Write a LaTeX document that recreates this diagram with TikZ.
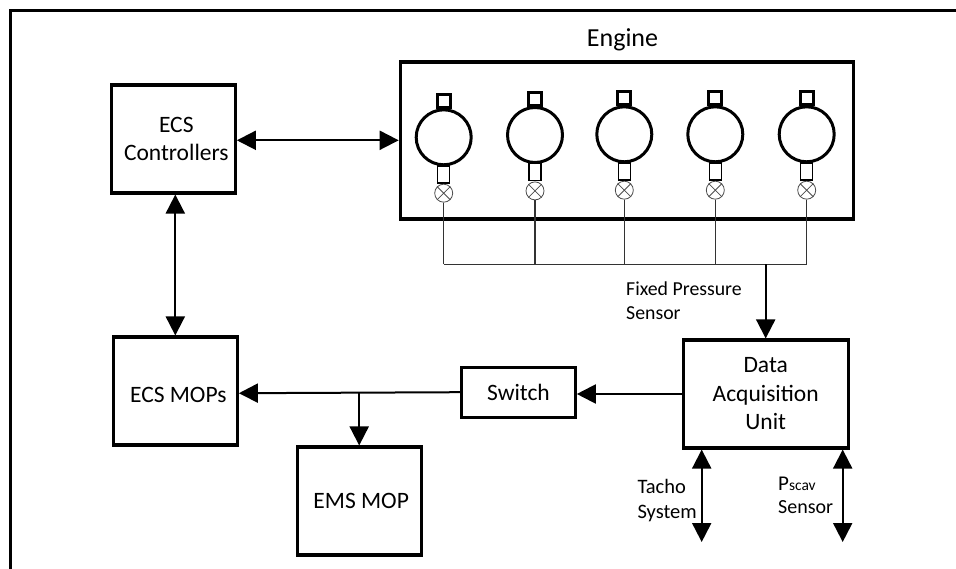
\documentclass[tikz,border=0pt]{standalone}
\usepackage{fontspec}
\setmainfont{Carlito}
\usetikzlibrary{arrows.meta,positioning}
\newcommand{\sizedtext}[1]{\fontsize{#1}{28.5}\selectfont}
\begin{document}
\begin{tikzpicture}[x=1pt, y=-1pt,
    block/.style={draw, line width=3.1pt, inner sep=0pt, align=center, font=\sizedtext{23.5}},
    cylinder/.style={circle, draw, line width=3pt, inner sep=0pt, minimum size=55pt},
    head/.style={draw, line width=2.8pt, inner sep=0pt, minimum size=13pt},
    stub/.style={draw, line width=1.5pt, inner sep=0pt, minimum width=12pt, minimum height=17pt},
    valve/.style={circle, draw=black!70, line width=0.8pt, inner sep=0pt, minimum size=18pt},
    wire/.style={draw=black!80, line width=1.3pt},
    link/.style={line width=2pt, -{Triangle[length=19pt, width=19pt]}},
    twoway/.style={line width=2pt, {Triangle[length=19pt, width=19pt]}-{Triangle[length=19pt, width=19pt]}},
    note/.style={inner sep=0pt, anchor=base west, align=left}]
  \useasboundingbox (0, 0) rectangle (956, 569);
  \draw[line width=3pt] (10.5, 569) -- (10.5, 11) -- (956, 11);

  \node[font=\sizedtext{26}, inner sep=0pt, anchor=base] (title) at (622.5, 46.7) {Engine};
  \node[block, minimum width=453pt, minimum height=157pt, line width=3.6pt] (engine) at (627, 140.3) {};
  \node[block, minimum width=124pt, minimum height=108pt] (controllers) at (173.3, 139)
    {\hspace*{6pt}ECS\\\hspace*{6pt}Controllers};
  \node[block, minimum width=124pt, minimum height=108pt, text height=22pt, text depth=0pt] (mops) at (175.3, 391)
    {\hspace*{6pt}ECS MOPs};
  \node[block, minimum width=124pt, minimum height=108pt] (ems) at (359.2, 501) {\hspace*{4pt}EMS MOP};
  \node[block, minimum width=114pt, minimum height=50pt, line width=2.6pt] (switch) at (518.5, 392.2) {Switch};
  \node[block, minimum width=165pt, minimum height=108pt] (dau) at (765.7, 394) {Data\\Acquisition\\Unit};

  \coordinate (bus) at (765.7, 264.5);
  \foreach \i/\x/\y in {1/443.7/137.3, 2/535/135, 3/624.3/134.3, 4/715.3/134.3, 5/806.7/134.3} {
    \node[cylinder] (c\i) at (\x, \y) {};
    \node[head, above=-1pt of c\i] (h\i) {};
    \node[stub, below=-1pt of c\i] (s\i) {};
    \node[valve, below=0pt of s\i] (v\i) {};
    \draw[black!70, line width=0.8pt] (v\i.45) -- (v\i.225) (v\i.135) -- (v\i.315);
    \draw[wire] (v\i.south) -- (v\i.south |- bus);
  }
  \draw[wire] (v1.south |- bus) -- (v5.south |- bus);

  \draw[twoway] (engine.west -| controllers.east) -- (engine.west);
  \draw[twoway] (mops.north |- controllers.south) -- (mops.north);
  \draw[link] (bus) -- (dau.north);
  \draw[link] (dau.west) -- (dau.west -| switch.east);
  \draw[link] (switch.west) -- (mops.-2);
  \draw[link] (switch.west -| ems.north) -- (ems.north);

  \coordinate (tacho) at (701.7, 542);
  \coordinate (pscav) at (842.7, 542);
  \draw[twoway] (tacho |- dau.south) -- (tacho);
  \draw[twoway] (pscav |- dau.south) -- (pscav);

  \node[note, font=\sizedtext{19.8}] (fixed) at (626, 295.7) {Fixed Pressure};
  \node[note, font=\sizedtext{19.8}] (fixedb) at (626, 320) {Sensor};
  \node[note, font=\sizedtext{20.5}] (tachoa) at (637.3, 493) {Tacho};
  \node[note, font=\sizedtext{20.5}] (tachob) at (637.3, 518) {System};
  \node[note, font=\sizedtext{21}] (pscava) at (778, 490) {P{\sizedtext{15.5}scav}};
  \node[note, font=\sizedtext{20}] (pscavb) at (778, 513) {Sensor};
\end{tikzpicture}
\end{document}
